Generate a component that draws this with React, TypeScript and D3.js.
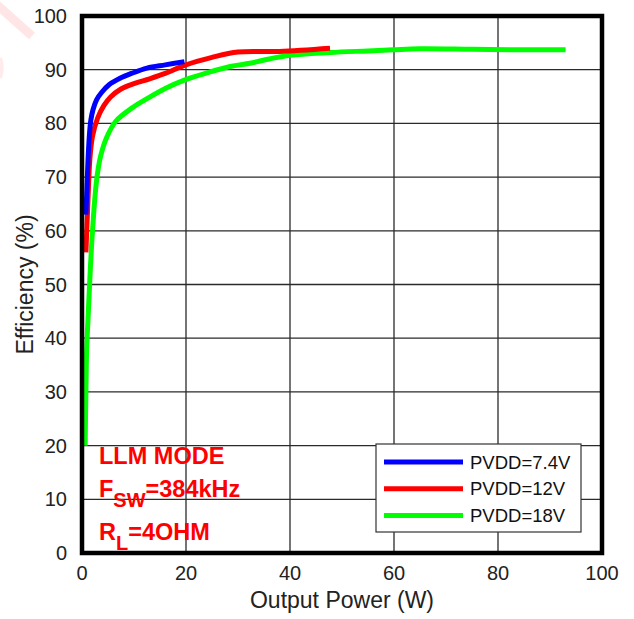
import React from "react";
import * as d3 from "d3";

const blueW = [0.75, 0.95, 1.15, 1.4, 1.7, 2.1, 2.8, 3.8, 5.2, 7.3, 9.5, 12.5, 16, 19.7];
const blueE = [63, 68, 73, 77.5, 80.6, 82.5, 84.4, 85.8, 87.2, 88.4, 89.3, 90.3, 90.9, 91.5];

const redW = [0.75, 0.95, 1.15, 1.5, 2.0, 3.0, 4.2, 5.5, 7.5, 10, 13, 16, 20, 25, 30, 38, 47.7];
const redE = [56, 61, 65.7, 73.2, 77.5, 81.0, 83.3, 84.9, 86.4, 87.4, 88.3, 89.3, 90.9, 92.3, 93.3, 93.4, 94.0];

const greenW = [0.6, 0.75, 0.9, 1.15, 1.5, 1.9, 2.3, 2.7, 3.1, 3.6, 4.8, 6.5, 9.5, 12.5, 16, 19.8, 24, 28.5, 32.3, 36, 40, 47.7, 55, 59.8, 65, 75, 85, 93];
const greenE = [20, 30, 38, 43.4, 50.8, 58.3, 64, 68.5, 71.5, 74, 77.5, 80.4, 82.8, 84.6, 86.5, 88.1, 89.4, 90.6, 91.2, 92.0, 92.7, 93.2, 93.5, 93.7, 93.9, 93.8, 93.7, 93.7];

const xTicks = [0, 20, 40, 60, 80, 100];
const yTicks = [0, 10, 20, 30, 40, 50, 60, 70, 80, 90, 100];

const seriesNames = ["PVDD=7.4V", "PVDD=12V", "PVDD=18V"];
const seriesColors = ["#0000ff", "#ff0000", "#00ff00"];

export default function App() {
  const left = 82, right = 602, top = 16, bottom = 553;
  const x = d3.scaleLinear().domain([0, 100]).range([left, right]);
  const y = d3.scaleLinear().domain([0, 100]).range([bottom, top]);
  const line = d3
    .line<[number, number]>()
    .x((d) => x(d[0]))
    .y((d) => y(d[1]))
    .curve(d3.curveCatmullRom.alpha(0.5));

  const series = [
    blueW.map((w, i) => [w, blueE[i]] as [number, number]),
    redW.map((w, i) => [w, redE[i]] as [number, number]),
    greenW.map((w, i) => [w, greenE[i]] as [number, number]),
  ];
  const drawOrder = [2, 1, 0];
  const font = "'Liberation Sans', Arial, sans-serif";

  return (
    <svg width={634} height={619} style={{ position: "absolute", left: 0, top: 0 }}>
      <rect width={634} height={619} fill="#fff" />
      {/* watermark */}
      <line x1={-4} y1={4} x2={32} y2={36} stroke="#ff0000" strokeOpacity={0.1} strokeWidth={9} />
      <path d="M0,58 A12,20 0 0 1 0,78" fill="none" stroke="#ff0000" strokeOpacity={0.08} strokeWidth={4} />

      {/* grid */}
      {xTicks.slice(1, -1).map((t) => (
        <line key={"gx" + t} x1={x(t)} x2={x(t)} y1={top} y2={bottom} stroke="#2a2a2a" strokeWidth={1.3} />
      ))}
      {yTicks.slice(1, -1).map((t) => (
        <line key={"gy" + t} x1={left} x2={right} y1={y(t)} y2={y(t)} stroke="#2a2a2a" strokeWidth={1.3} />
      ))}

      {/* curves */}
      {drawOrder.map((i) => (
        <path
          key={"s" + i}
          d={line(series[i]) || ""}
          fill="none"
          stroke={seriesColors[i]}
          strokeWidth={5}
          strokeLinejoin="round"
        />
      ))}

      {/* frame */}
      <rect x={left} y={top} width={right - left} height={bottom - top} fill="none" stroke="#000" strokeWidth={4.5} />

      {/* y ticks */}
      {yTicks.map((t) => (
        <text key={"yt" + t} x={67} y={y(t) + 7} textAnchor="end" fontSize={20} fontFamily={font} fill="#222">
          {t}
        </text>
      ))}
      {/* x ticks */}
      {xTicks.map((t) => (
        <text key={"xt" + t} x={x(t)} y={580} textAnchor="middle" fontSize={20} fontFamily={font} fill="#222">
          {t}
        </text>
      ))}
      <text x={(left + right) / 2} y={608} textAnchor="middle" fontSize={23} fontFamily={font} fill="#222">
        Output Power (W)
      </text>
      <text
        transform={`translate(33, ${(top + bottom) / 2}) rotate(-90)`}
        textAnchor="middle"
        fontSize={23}
        fontFamily={font}
        fill="#222"
      >
        Efficiency (%)
      </text>

      {/* annotation */}
      <g fontFamily={font} fontWeight="bold" fill="#ff0000" fontSize={23.5}>
        <text x={99} y={464}>LLM MODE</text>
        <text x={99} y={497}>
          F<tspan fontSize={20} dy={10}>SW</tspan>
          <tspan dy={-10}>=384kHz</tspan>
        </text>
        <text x={99} y={540}>
          R<tspan fontSize={20} dy={10}>L</tspan>
          <tspan dy={-10}>=4OHM</tspan>
        </text>
      </g>

      {/* legend */}
      <rect x={376} y={444} width={205} height={88} fill="#fff" stroke="#333" strokeWidth={1.2} />
      {seriesNames.map((n, i) => (
        <g key={"lg" + i}>
          <line x1={384} x2={463} y1={462 + i * 26.7} y2={462 + i * 26.7} stroke={seriesColors[i]} strokeWidth={5} />
          <text x={470} y={468.5 + i * 26.7} fontSize={18.5} fontFamily={font} fill="#111">
            {n}
          </text>
        </g>
      ))}
    </svg>
  );
}
